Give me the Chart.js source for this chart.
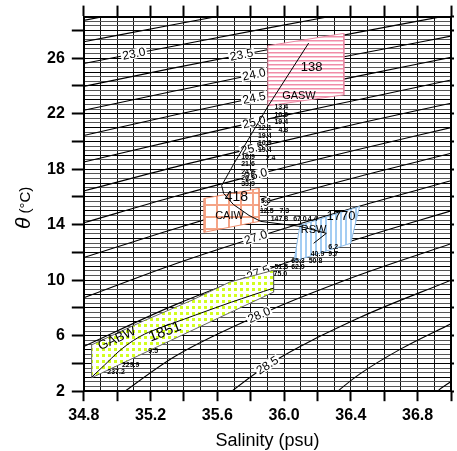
<!DOCTYPE html>
<html><head><meta charset="utf-8">
<script src="https://cdn.jsdelivr.net/npm/chart.js@4.4.1/dist/chart.umd.min.js"></script>
<style>html,body{margin:0;padding:0;background:#fff;}#wrap{width:457px;height:451px;}</style>
</head><body><div id="wrap"><canvas id="c" width="457" height="451"></canvas></div>
<script>
// ---------- isopycnals (sigma-theta), salinity / potential temperature ----------
const sigmaLevels = [22.0, 22.5, 23.0, 23.5, 24.0, 24.5, 25.0, 25.5, 26.0, 26.5, 27.0, 27.5, 28.0, 28.5, 29.0, 29.5];
const salStd = [34.8, 35.35, 35.9, 36.45, 37.0];
const theta_22_0 = [28.73, 30.0];
const theta_22_5 = [27.19, 28.45, 29.68];
const theta_23_0 = [25.62, 26.90, 28.17, 29.40];
const theta_23_5 = [23.97, 25.32, 26.61, 27.88, 29.12];
const theta_24_0 = [22.25, 23.65, 25.02, 26.32, 27.59];
const theta_24_5 = [20.43, 21.93, 23.34, 24.73, 26.06];
const theta_25_0 = [18.52, 20.08, 21.61, 23.03, 24.43];
const theta_25_5 = [16.43, 18.17, 19.76, 21.31, 22.76];
const theta_26_0 = [14.14, 16.05, 17.81, 19.44, 21.00];
const theta_26_5 = [11.63, 13.73, 15.68, 17.48, 19.15];
const theta_27_0 = [8.74, 11.19, 13.35, 15.33, 17.17];
const theta_27_5 = [5.23, 8.24, 10.77, 13.00, 15.00];
const sal_28_0 = [35.0, 35.35, 35.9, 36.45, 37.0];
const theta_28_0 = [1.6, 4.54, 7.75, 10.37, 12.63];
const sal_28_5 = [35.6, 35.9, 36.45, 37.0];
const theta_28_5 = [1.2, 3.87, 7.29, 10.0];
const sal_29_0 = [36.25, 36.45, 36.7, 37.0];
const theta_29_0 = [1.3, 3.21, 5.05, 6.86];
const sal_29_5 = [36.85, 36.92, 37.0];
const theta_29_5 = [0.9, 2.0, 2.7];

// ---------- water-mass boxes ----------
const gaswSal   = [35.903, 36.358, 36.358, 35.903, 35.903];
const gaswTheta = [26.90, 27.79, 23.36, 22.57, 26.90];
const caiwSal   = [35.519, 35.850, 35.850, 35.519, 35.519];
const caiwTheta = [15.89, 16.61, 14.24, 13.45, 15.89];
const rswSal    = [36.095, 36.452, 36.399, 36.060, 36.095];
const rswTheta  = [13.95, 15.31, 12.66, 11.37, 13.95];
const gabwSal   = [34.847, 35.157, 35.450, 35.673, 35.937, 35.937, 35.392, 34.847, 34.847];
const gabwTheta = [5.34, 7.06, 8.57, 9.86, 10.72, 9.14, 6.06, 2.97, 5.34];

// ---------- mixing paths ----------
const mixUpperSal   = [36.147, 35.901, 35.784, 35.696, 35.626, 35.638, 35.696, 35.790, 35.860, 36.095, 36.253, 36.177];
const mixUpperTheta = [27.09, 22.49, 20.12, 18.33, 16.82, 16.25, 15.46, 14.67, 14.24, 13.88, 13.38, 12.66];
const mixLowerSal   = [34.847, 34.923, 35.011, 35.099, 35.187, 35.403, 35.685, 35.937];
const mixLowerTheta = [3.01, 3.87, 4.88, 5.67, 6.24, 7.20, 8.42, 9.43];

// ---------- labels ----------
const isoLabelText = ['23.0','23.5','24.0','24.5','25.0','25.5','26.0','26.5','27.0','27.5','28.0','28.5'];
const isoLabelSal  = [35.10, 35.745, 35.82, 35.82, 35.82, 35.81, 35.83, 35.84, 35.83, 35.845, 35.85, 35.90];

const massLabelText  = ['138', 'GASW', '418', 'CAIW', '1770', 'RSW', 'GABW', '1851'];
const massLabelSal   = [36.165, 36.089, 35.714, 35.673, 36.341, 36.177, 34.999, 35.286];
const massLabelTheta = [25.37, 23.28, 15.98, 14.62, 14.62, 13.61, 5.77, 6.27];

const pctText  = ['13.4','16.9','19.4','4.8',
                  '12.1','19.4','16.9','19.4','2.4',
                  '16.9','21.6','24.6','26.9','33.9',
                  '9.8','12.5','7.3','147.8','67.0','4.4',
                  '6.2','9.7','40.9','65.3','50.8',
                  '51.5','62.9','75.0',
                  '237.2','229.9','9.5'];
const pctSal   = [35.983,35.983,35.983,35.995,
                  35.884,35.884,35.884,35.884,35.919,
                  35.784,35.784,35.784,35.784,35.784,
                  35.890,35.896,36.001,35.972,36.095,36.171,
                  36.294,36.294,36.200,36.083,36.188,
                  35.983,36.083,35.978,
                  34.993,35.081,35.216];
const pctTheta = [22.50,21.92,21.42,20.84,
                  20.99,20.41,19.91,19.41,18.83,
                  18.90,18.40,17.83,17.39,16.96,
                  15.68,14.96,14.96,14.40,14.40,14.40,
                  12.37,11.87,11.87,11.37,11.37,
                  10.94,10.94,10.43,
                  3.40,3.91,4.92];

// ---------- axis ticks ----------
const xTickLabels = [34.8, 35.2, 35.6, 36.0, 36.4, 36.8];
const yTickLabels = [2, 6, 10, 14, 18, 22, 26];

const isoThetaArrays = [theta_22_0, theta_22_5, theta_23_0, theta_23_5, theta_24_0, theta_24_5, theta_25_0,
  theta_25_5, theta_26_0, theta_26_5, theta_27_0, theta_27_5, theta_28_0, theta_28_5, theta_29_0, theta_29_5];
const isoSalArrays = [salStd, salStd, salStd, salStd, salStd, salStd, salStd, salStd, salStd, salStd, salStd, salStd,
  sal_28_0, sal_28_5, sal_29_0, sal_29_5];

function pts(sArr, tArr){ return tArr.map((t,i)=>({x:sArr[i], y:t})); }
function makePattern(w,h,draw){
  const c=document.createElement('canvas'); c.width=w; c.height=h;
  const g=c.getContext('2d'); g.fillStyle='#fff'; g.fillRect(0,0,w,h); draw(g);
  return g.createPattern(c,'repeat');
}
const pinkPat = makePattern(4,4,g=>{g.fillStyle='#f08ca8';g.fillRect(0,0,4,1);g.fillStyle='#f9c6d3';g.fillRect(0,1,4,1);});
const bluePat = makePattern(5,5,g=>{g.fillStyle='#a4cdf3';g.fillRect(0,0,2,5);});
const orangePat = makePattern(12,12,g=>{g.fillStyle='#f5a486';g.fillRect(0,0,12,2);g.fillRect(0,0,2,12);});
const greenPat = makePattern(6,6,g=>{g.fillStyle='#d2ff1e';g.fillRect(0,0,3,3);});

const datasets = [];
sigmaLevels.forEach((s,i)=>{
  datasets.push({data: pts(isoSalArrays[i], isoThetaArrays[i]), showLine:true, borderColor:'#000', borderWidth:1.1,
    pointRadius:0, cubicInterpolationMode:'monotone', fill:false, order:30});
});
function polyDs(sArr,tArr,pat,border){
  return {data: pts(sArr,tArr), showLine:true, borderColor:border, borderWidth:1, pointRadius:0, tension:0,
    fill:'shape', backgroundColor:pat, order:20};
}
datasets.push(polyDs(gaswSal,gaswTheta,pinkPat,'#e98aa4'));
datasets.push(polyDs(caiwSal,caiwTheta,orangePat,'#ee9070'));
datasets.push(polyDs(rswSal,rswTheta,bluePat,'#8fbde8'));
datasets.push(polyDs(gabwSal,gabwTheta,greenPat,'#666'));
datasets.push({data: pts(mixUpperSal,mixUpperTheta), showLine:true, borderColor:'#000', borderWidth:1, pointRadius:0, tension:0, fill:false, order:10});
datasets.push({data: pts(mixLowerSal,mixLowerTheta), showLine:true, borderColor:'#000', borderWidth:1, pointRadius:0, tension:0.3, fill:false, order:10});

const FONT = '"Liberation Sans", Arial, Helvetica, sans-serif';

const isoLabelPlugin = {
  id:'isoLabels',
  afterDatasetDraw(chart, args){
    if(args.index !== 0) return;
    const ctx = chart.ctx, a = chart.chartArea, xs = chart.scales.x;
    ctx.save();
    ctx.beginPath(); ctx.rect(a.left,a.top,a.right-a.left,a.bottom-a.top); ctx.clip();
    ctx.font = '12px ' + FONT; ctx.textAlign='center'; ctx.textBaseline='middle';
    isoLabelText.forEach((txt,i)=>{
      const di = sigmaLevels.findIndex(v=>v.toFixed(1)===txt);
      const line = chart.getDatasetMeta(di).dataset;
      const px = xs.getPixelForValue(isoLabelSal[i]);
      const get = (x)=>{ let r=line.interpolate({x:x},'x'); if(Array.isArray(r)) r=r[0]; return r; };
      const p=get(px), p1=get(px-4), p2=get(px+4);
      if(!p||!p1||!p2) return;
      const ang=Math.atan2(p2.y-p1.y,p2.x-p1.x);
      ctx.save(); ctx.translate(p.x,p.y); ctx.rotate(ang);
      const w=ctx.measureText(txt).width;
      ctx.fillStyle='#fff'; ctx.fillRect(-w/2-1.5,-5,w+3,10);
      ctx.fillStyle='#000'; ctx.fillText(txt,0,0.5);
      ctx.restore();
    });
    ctx.restore();
  }
};

const textPlugin = {
  id:'texts',
  afterDatasetsDraw(chart){
    const ctx=chart.ctx, xs=chart.scales.x, ys=chart.scales.y;
    ctx.save();
    ctx.textAlign='center'; ctx.textBaseline='middle'; ctx.fillStyle='#000';
    const sizes=[13,11,14,11,13,11,13,15];
    const rots=[0,0,0,0,0,0,-24,-21];
    massLabelText.forEach((t,i)=>{
      ctx.save();
      ctx.translate(xs.getPixelForValue(massLabelSal[i]), ys.getPixelForValue(massLabelTheta[i]));
      ctx.rotate(rots[i]*Math.PI/180);
      ctx.font = sizes[i]+'px '+FONT;
      ctx.fillText(t,0,0);
      ctx.restore();
    });
    ctx.font='bold 7px '+FONT;
    pctText.forEach((t,i)=>{
      ctx.fillText(t, xs.getPixelForValue(pctSal[i]), ys.getPixelForValue(pctTheta[i]));
    });
    // y axis title
    const a=chart.chartArea;
    ctx.save();
    ctx.translate(30,(a.top+a.bottom)/2+4); ctx.rotate(-Math.PI/2);
    ctx.textAlign='left'; ctx.textBaseline='alphabetic';
    ctx.font='italic 21px '+FONT; const w1=ctx.measureText('θ').width;
    ctx.font='15px '+FONT; const w2=ctx.measureText(' (°C)').width;
    const x0=-(w1+w2)/2;
    ctx.font='italic 21px '+FONT; ctx.fillText('θ',x0,0);
    ctx.font='15px '+FONT; ctx.fillText(' (°C)',x0+w1,0);
    ctx.restore();
    ctx.restore();
  }
};

const near=(v,arr)=>arr.some(a=>Math.abs(a-v)<1e-6);

new Chart(document.getElementById('c'), {
  type:'scatter',
  data:{datasets},
  options:{
    responsive:false, animation:false, devicePixelRatio:1, events:[],
    layout:{padding:{top:5,right:-1,bottom:0,left:40}},
    plugins:{legend:{display:false}, tooltip:{enabled:false}},
    scales:{
      x:{type:'linear', position:'bottom', min:34.8, max:37.0,
        ticks:{stepSize:0.1, autoSkip:false, maxRotation:0, padding:6, color:'#000',
          font:{family:FONT, size:16, weight:'bold', lineHeight:1.0},
          callback:(v)=> near(v,xTickLabels) ? v.toFixed(1) : ''},
        grid:{color:'#111', lineWidth:1, tickLength:10, tickWidth:2,
          tickColor:(c)=>{const k=Math.round((c.tick.value-34.8)*10); return k%2===0?'#000':'rgba(0,0,0,0)';}},
        border:{color:'#000', width:2},
        title:{display:true, text:'Salinity (psu)', color:'#000', font:{family:FONT, size:18, lineHeight:1.1}, padding:{top:2,bottom:0}}
      },
      xTop:{type:'linear', position:'top', min:34.8, max:37.0,
        ticks:{display:false, stepSize:0.2},
        grid:{drawOnChartArea:false, tickLength:11, tickWidth:2, tickColor:'#000'},
        border:{color:'#000', width:2}
      },
      y:{type:'linear', position:'left', min:2, max:29,
        ticks:{stepSize:1/3, autoSkip:false, padding:7, color:'#000',
          font:{family:FONT, size:16, weight:'bold'},
          callback:(v)=> near(v,yTickLabels) ? String(Math.round(v)) : ''},
        grid:{lineWidth:1, tickLength:12, tickWidth:2,
          color:(c)=> Math.round(c.tick.value*3)%3===0 ? '#000' : '#555',
          tickColor:(c)=> Math.round(c.tick.value*3)%6===0 ? '#000' : 'rgba(0,0,0,0)'},
        border:{color:'#000', width:2}
      },
      yRight:{type:'linear', position:'right', min:2, max:29,
        ticks:{display:false, stepSize:2},
        grid:{drawOnChartArea:false, tickLength:3, tickWidth:2, tickColor:'#000'},
        border:{color:'#000', width:2}
      }
    }
  },
  plugins:[isoLabelPlugin, textPlugin]
});
</script></body></html>
